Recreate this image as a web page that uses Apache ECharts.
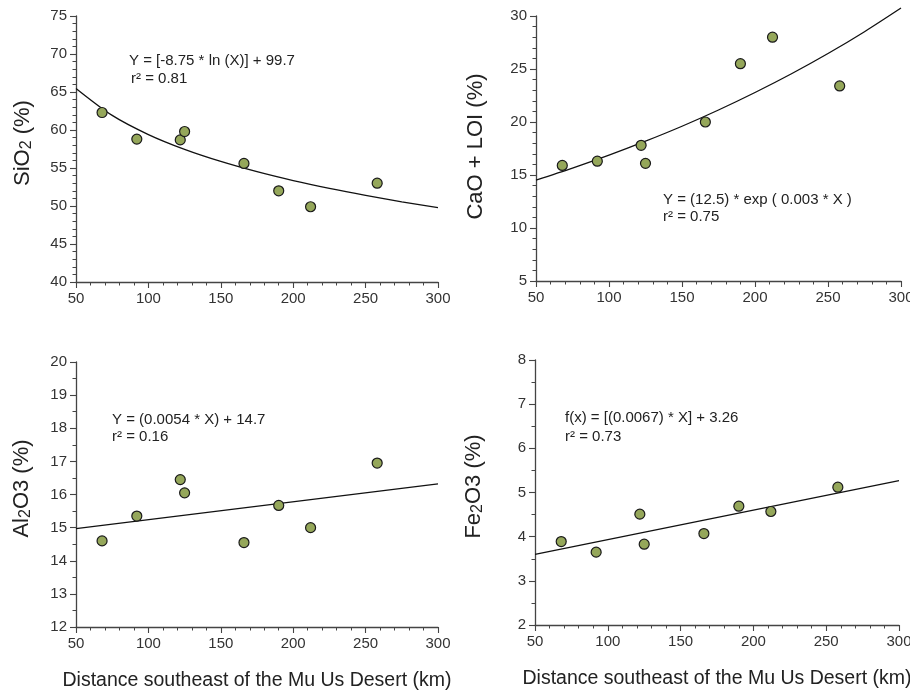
<!DOCTYPE html>
<html><head><meta charset="utf-8">
<script src="https://cdn.jsdelivr.net/npm/echarts@6/dist/echarts.min.js"></script>
<style>html,body{margin:0;padding:0;background:#fff}#c{width:910px;height:693px}</style>
</head><body><div id="c"></div>
<script>
// ---- data ----
const distance = [68, 92, 122, 125, 166, 190, 212, 258];
const sio2     = [62.3, 58.8, 58.7, 59.8, 55.6, 52.0, 49.9, 53.0];
const caoLoi   = [15.9, 16.3, 17.8, 16.1, 20.0, 25.5, 28.0, 23.4];
const al2o3    = [14.6, 15.35, 16.45, 16.05, 14.55, 15.67, 15.0, 16.95];
const fe2o3    = [3.89, 3.65, 4.51, 3.83, 4.07, 4.69, 4.57, 5.12];

// fitted curves as drawn
const fitX      = [50, 75, 100, 125, 150, 175, 200, 225, 250, 275, 300];
const sio2Fit   = [65.47, 61.92, 59.40, 57.45, 55.86, 54.51, 53.34, 52.31, 51.39, 50.55, 49.79];
const caoFit    = [14.52, 15.65, 16.87, 18.19, 19.60, 21.13, 22.78, 24.55, 26.46, 28.52, 30.75];
const lineX     = [50, 300];
const al2o3Fit  = [14.97, 16.32];
const fe2o3Fit  = [3.60, 5.27];

const xRange = {min: 50, max: 300, interval: 50};
const yRanges = [
  {min: 40, max: 75, interval: 5, minor: 5},
  {min: 5, max: 30, interval: 5, minor: 5},
  {min: 12, max: 20, interval: 1, minor: 2},
  {min: 2, max: 8, interval: 1, minor: 2}
];
const xTitle = 'Distance southeast of the Mu Us Desert (km)';
const equations = [
  ['Y = [-8.75 * ln (X)] + 99.7', 'r\u00b2 = 0.81'],
  ['Y = (12.5) * exp ( 0.003 * X )', 'r\u00b2 = 0.75'],
  ['Y = (0.0054 * X) + 14.7', 'r\u00b2 = 0.16'],
  ['f(x) = [(0.0067) * X] + 3.26', 'r\u00b2 = 0.73']
];

const FONT = '"Liberation Sans", Arial, Helvetica, sans-serif';
const AX = '#444';

const grids = [
  {left: 76, top: 16, width: 362, height: 266},
  {left: 536, top: 16, width: 365, height: 265},
  {left: 76, top: 362, width: 362, height: 265},
  {left: 535, top: 360, width: 364, height: 265}
].map(g => Object.assign({outerBoundsMode: 'none', containLabel: false, show: false}, g));

const yNames = [
  '{n|SiO}{s|2}{n| (%)}',
  '{n|CaO + LOI (%)}',
  '{n|Al}{s|2}{n|O3 (%)}',
  '{n|Fe}{s|2}{n|O3 (%)}'
];
const yGaps = [41, 49, 42, 49];
const yPad = [[0,0,0,12],[0,0,0,4],[0,0,0,12],[0,0,0,12]];

function axisCommon() {
  return {
    axisLine: {show: true, lineStyle: {color: AX, width: 1.3}},
    axisTick: {show: true, inside: false, length: 6, lineStyle: {color: AX, width: 1.1}},
    minorTick: {show: true, length: 3.5, lineStyle: {color: AX, width: 1}},
    splitLine: {show: false},
    axisLabel: {color: '#333', fontSize: 15, fontFamily: FONT, margin: 9}
  };
}

const xAxes = grids.map((g, i) => Object.assign(axisCommon(), {
  type: 'value', gridIndex: i, min: xRange.min, max: xRange.max, interval: xRange.interval,
  minorTick: {show: true, splitNumber: 5, length: 3.5, lineStyle: {color: AX, width: 1}},
  name: i >= 2 ? xTitle : '', nameLocation: 'middle', nameGap: 44,
  nameTextStyle: {fontSize: 19.5, color: '#222', fontFamily: FONT}
}));

const yAxes = grids.map((g, i) => Object.assign(axisCommon(), {
  type: 'value', gridIndex: i, min: yRanges[i].min, max: yRanges[i].max, interval: yRanges[i].interval,
  minorTick: {show: true, splitNumber: yRanges[i].minor, length: 3.5, lineStyle: {color: AX, width: 1}},
  name: yNames[i], nameLocation: 'middle', nameGap: yGaps[i], nameRotate: 90,
  nameTextStyle: {
    fontFamily: FONT, color: '#222', padding: yPad[i],
    rich: {
      n: {fontSize: 22, fontFamily: FONT, color: '#222'},
      s: {fontSize: 16, fontFamily: FONT, color: '#222', padding: [9, 0, 0, 0]}
    }
  }
}));

const values = [sio2, caoLoi, al2o3, fe2o3];
const fits = [
  fitX.map((x, k) => [x, sio2Fit[k]]),
  fitX.map((x, k) => [x, caoFit[k]]),
  lineX.map((x, k) => [x, al2o3Fit[k]]),
  lineX.map((x, k) => [x, fe2o3Fit[k]])
];

const series = [];
values.forEach((vals, i) => {
  series.push({
    type: 'line', xAxisIndex: i, yAxisIndex: i, data: fits[i], smooth: i < 2 ? 0.3 : false,
    showSymbol: false, symbol: 'none', clip: false, silent: true,
    lineStyle: {color: '#111', width: 1.3}, z: 2
  });
  series.push({
    type: 'scatter', xAxisIndex: i, yAxisIndex: i,
    data: distance.map((d, k) => [d, vals[k]]),
    symbol: 'circle', symbolSize: 10,
    itemStyle: {color: '#95a75a', borderColor: '#1a1a1a', borderWidth: 1.2, opacity: 1}, z: 3
  });
});

const eqPos = [
  [129, 61, 131, 79],
  [663, 200, 663, 217],
  [112, 420, 112, 437],
  [565, 418, 565, 437]
];
const graphic = [];
equations.forEach((eq, i) => {
  const p = eqPos[i];
  graphic.push({type: 'text', x: p[0], y: p[1], style: {text: eq[0], font: '15px ' + FONT, fill: '#222', verticalAlign: 'middle', textVerticalAlign: 'middle'}});
  graphic.push({type: 'text', x: p[2], y: p[3], style: {text: eq[1], font: '15px ' + FONT, fill: '#222', verticalAlign: 'middle', textVerticalAlign: 'middle'}});
});

const chart = echarts.init(document.getElementById('c'), null, {renderer: 'canvas'});
chart.setOption({
  backgroundColor: '#fff',
  animation: false,
  grid: grids,
  xAxis: xAxes,
  yAxis: yAxes,
  series: series,
  graphic: graphic
});
</script></body></html>
